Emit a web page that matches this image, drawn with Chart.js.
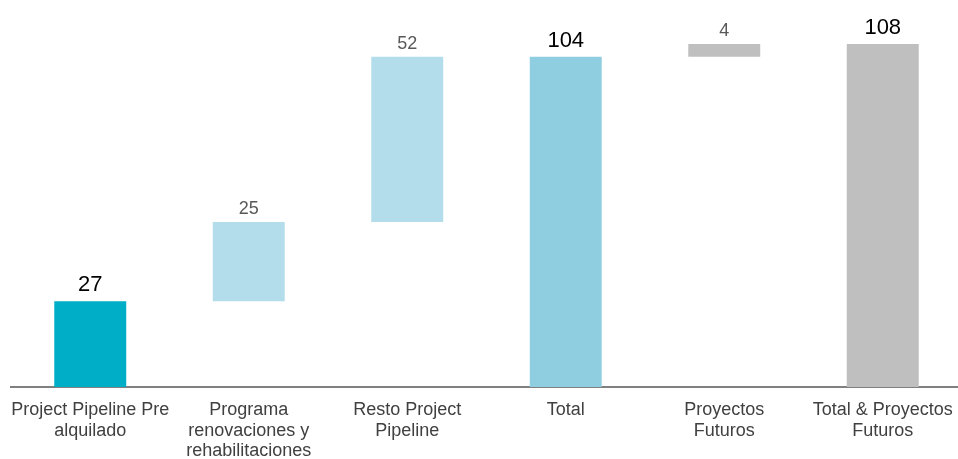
<!DOCTYPE html>
<html>
<head>
<meta charset="utf-8">
<script src="https://cdn.jsdelivr.net/npm/chart.js@4"></script>
<style>
  html, body { margin: 0; padding: 0; background: #fff; overflow: hidden; }
  #wrap { width: 962px; height: 459px; position: relative; }
</style>
</head>
<body>
<div id="wrap"><canvas id="c"></canvas></div>
<script>
// Waterfall: category labels, step values, and which steps are totals
const categories = [
  ['Project Pipeline Pre', 'alquilado'],
  ['Programa', 'renovaciones y', 'rehabilitaciones'],
  ['Resto Project', 'Pipeline'],
  'Total',
  ['Proyectos', 'Futuros'],
  ['Total & Proyectos', 'Futuros']
];
const stepValues = [27, 25, 52, 104, 4, 108];
const isTotal = [false, false, false, true, false, true];
const barColors = ['#00AEC7', '#B3DDEA', '#B3DDEA', '#8ECEE0', '#BFBFBF', '#BFBFBF'];
const labelColors = ['#000000', '#595959', '#595959', '#000000', '#595959', '#000000'];
const labelSizes = [22, 18, 18, 22, 18, 22];

// Build floating [start, end] ranges from the running sum
const ranges = [];
let running = 0;
stepValues.forEach((v, i) => {
  if (isTotal[i]) {
    ranges.push([0, v]);
    running = v;
  } else {
    ranges.push([running, running + v]);
    running += v;
  }
});

const valueLabels = {
  id: 'valueLabels',
  afterDatasetsDraw(chart) {
    const ctx = chart.ctx;
    const meta = chart.getDatasetMeta(0);
    ctx.save();
    ctx.textAlign = 'center';
    ctx.textBaseline = 'alphabetic';
    meta.data.forEach((bar, i) => {
      const top = Math.min(bar.y, bar.base);
      ctx.font = labelSizes[i] + 'px "Liberation Sans", Arial, sans-serif';
      ctx.fillStyle = labelColors[i];
      const gap = isTotal[i] || i === 0 ? 10 : 8;
      ctx.fillText(String(stepValues[i]), bar.x, top - gap);
    });
    ctx.restore();
  }
};

new Chart(document.getElementById('c'), {
  type: 'bar',
  data: {
    labels: categories,
    datasets: [{
      data: ranges,
      backgroundColor: barColors,
      borderWidth: 0,
      barPercentage: 0.454,
      categoryPercentage: 1.0
    }]
  },
  options: {
    responsive: true,
    maintainAspectRatio: false,
    animation: false,
    layout: { padding: { top: 6, left: 11, right: 0, bottom: 0 } },
    plugins: {
      legend: { display: false },
      tooltip: { enabled: false }
    },
    scales: {
      x: {
        grid: { display: false, drawTicks: false },
        border: { display: true, color: '#808080', width: 2 },
        ticks: {
          color: '#404040',
          padding: 13,
          maxRotation: 0,
          autoSkip: false,
          font: { family: '"Liberation Sans", Arial, sans-serif', size: 18, lineHeight: 1.14 }
        },
        afterFit(scale) {
          scale.height = 72;
          scale.paddingLeft = 0;
          scale.paddingRight = 0;
        }
      },
      y: {
        display: false,
        min: 0,
        max: 120
      }
    }
  },
  plugins: [valueLabels]
});
</script>
</body>
</html>
